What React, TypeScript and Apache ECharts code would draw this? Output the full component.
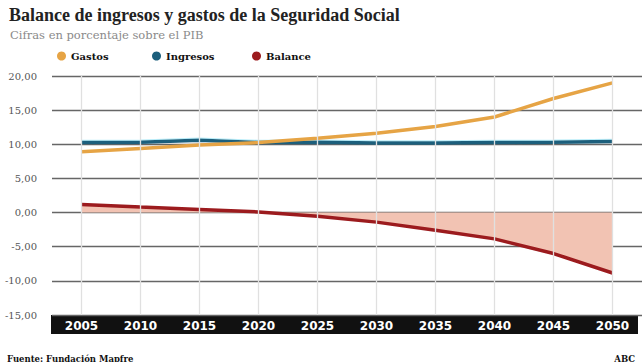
import React, { useEffect, useRef } from "react";
import * as echarts from "echarts";

const years = ["2005", "2010", "2015", "2020", "2025", "2030", "2035", "2040", "2045", "2050"];
const gastos = [8.9, 9.4, 9.9, 10.25, 10.9, 11.6, 12.6, 14.0, 16.7, 19.0];
const ingresos = [10.25, 10.3, 10.6, 10.25, 10.3, 10.2, 10.2, 10.25, 10.3, 10.4];
const balance = [1.2, 0.8, 0.45, 0.1, -0.55, -1.4, -2.6, -3.85, -6.0, -8.85];
const yTicks = { min: -15, max: 20, interval: 5 };

const C_GASTOS = "#e6a445";
const C_ING = "#1c5f7c";
const C_BAL = "#9c1b1e";

export default function App() {
  const ref = useRef<HTMLDivElement>(null);
  useEffect(() => {
    const chart = echarts.init(ref.current!, null, { renderer: "svg" });
    const legendText = { fontFamily: "DejaVu Serif", fontWeight: "bold", fontSize: 10, color: "#111" };
    chart.setOption({
      animation: false,
      backgroundColor: "#ffffff",
      title: [
        {
          text: "Balance de ingresos y gastos de la Seguridad Social",
          left: 4,
          top: 1,
          textStyle: { fontFamily: "Liberation Serif", fontWeight: "bold", fontSize: 18, color: "#222" },
        },
        {
          text: "Cifras en porcentaje sobre el PIB",
          left: 5,
          top: 24,
          textStyle: { fontFamily: "DejaVu Serif", fontWeight: "normal", fontSize: 11.5, color: "#8a8a8a" },
        },
        {
          text: "Fuente: Fundación Mapfre",
          left: 2,
          top: 349,
          textStyle: { fontFamily: "DejaVu Serif", fontWeight: "bold", fontSize: 8.5, color: "#111" },
        },
        {
          text: "ABC",
          right: 4,
          top: 349,
          textStyle: { fontFamily: "DejaVu Serif", fontWeight: "bold", fontSize: 8.5, color: "#111" },
        },
      ],
      legend: [
        { data: ["Gastos"], left: 52, top: 46, icon: "circle", itemWidth: 9, itemHeight: 9, textStyle: legendText, selectedMode: false },
        { data: ["Ingresos"], left: 147, top: 46, icon: "circle", itemWidth: 9, itemHeight: 9, textStyle: legendText, selectedMode: false },
        { data: ["Balance"], left: 247, top: 46, icon: "circle", itemWidth: 9, itemHeight: 9, textStyle: legendText, selectedMode: false },
      ],
      graphic: [
        { type: "rect", left: 51, top: 315, shape: { width: 587, height: 19 }, style: { fill: "#111" }, z: 0 },
      ],
      grid: { left: 52, right: 2, top: 76, bottom: 47, containLabel: false },
      xAxis: {
        type: "category",
        data: years,
        boundaryGap: true,
        axisLine: { show: false },
        axisTick: { show: false },
        axisLabel: { color: "#ffffff", fontFamily: "DejaVu Sans", fontWeight: "bold", fontSize: 12, margin: 5 },
        splitLine: { show: true, alignWithLabel: true, lineStyle: { color: "#e0e0e0", width: 1.3 } },
        z: 5,
      },
      yAxis: {
        type: "value",
        min: yTicks.min,
        max: yTicks.max,
        interval: yTicks.interval,
        axisLine: { show: false },
        axisTick: { show: false },
        axisLabel: {
          color: "#555",
          fontFamily: "DejaVu Serif",
          fontSize: 10,
          margin: 15,
          formatter: (v: number) => v.toFixed(2).replace(".", ","),
        },
        splitLine: { lineStyle: { color: "#666", width: 1.3 } },
      },
      series: [
        {
          name: "Balance",
          type: "line",
          data: balance,
          symbol: "none",
          itemStyle: { color: C_BAL },
          lineStyle: { color: C_BAL, width: 3.5 },
          areaStyle: { color: "#f2c3b3", opacity: 1 },
          z: 2,
        },
        {
          name: "Ingresos",
          type: "line",
          data: ingresos,
          symbol: "none",
          itemStyle: { color: C_ING },
          lineStyle: { color: C_ING, width: 3.5, shadowColor: "rgba(140,225,245,0.6)", shadowOffsetY: -1, shadowBlur: 0 },
          z: 3,
        },
        {
          name: "Gastos",
          type: "line",
          data: gastos,
          symbol: "none",
          itemStyle: { color: C_GASTOS },
          lineStyle: { color: C_GASTOS, width: 3.5 },
          z: 4,
        },
      ],
    });
    return () => chart.dispose();
  }, []);
  return (
    <div
      ref={ref}
      style={{ position: "fixed", left: 0, top: 0, width: 644, height: 362, background: "#fff" }}
    />
  );
}
